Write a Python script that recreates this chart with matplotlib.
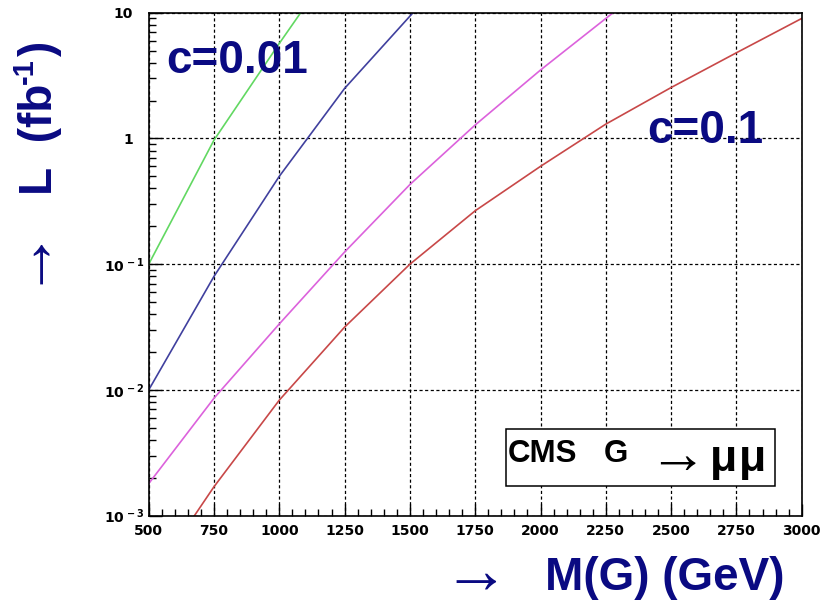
import matplotlib
matplotlib.use('Agg')
from matplotlib import pyplot as plt
from matplotlib import ticker
from matplotlib.patches import Rectangle

# luminosity needed (fb^-1) vs graviton mass (GeV)
mass_green = [500, 750, 1000, 1082]
lumi_green = [0.1, 0.97, 5.7, 10.0]

mass_blue = [500, 750, 1000, 1250, 1512]
lumi_blue = [0.01, 0.080, 0.50, 2.5, 10.0]

mass_magenta = [500, 750, 1000, 1250, 1500, 1750, 2000, 2278]
lumi_magenta = [0.0018, 0.0086, 0.0335, 0.125, 0.43, 1.28, 3.5, 10.0]

mass_red = [675, 750, 1000, 1250, 1500, 1750, 2000, 2250, 2500, 2750, 3000]
lumi_red = [0.001, 0.0017, 0.0083, 0.0316, 0.1, 0.266, 0.60, 1.3, 2.54, 4.8, 9.0]

x_ticks = [500, 750, 1000, 1250, 1500, 1750, 2000, 2250, 2500, 2750, 3000]
y_ticks = [1e-3, 1e-2, 1e-1, 1, 10]
y_ticklabels = [r'$10^{\,-3}$', r'$10^{\,-2}$', r'$10^{\,-1}$', '1', '10']

W, H = 823, 604
navy = '#0a0a82'

plt.rcParams['mathtext.fontset'] = 'dejavusans'
plt.rcParams['mathtext.default'] = 'bf'
# only used by the arrows (math_fontfamily='custom')
plt.rcParams['mathtext.rm'] = 'Liberation Sans'
plt.rcParams['mathtext.bf'] = 'Liberation Sans'

fig = plt.figure(figsize=(W / 100, H / 100), dpi=100)
ax = fig.add_axes([148.7 / W, 1 - 515.7 / H, 653 / W, 503 / H])

ax.plot(mass_green, lumi_green, color='#62d862', lw=1.2)
ax.plot(mass_blue, lumi_blue, color='#40409e', lw=1.2)
ax.plot(mass_magenta, lumi_magenta, color='#dc62dc', lw=1.2)
ax.plot(mass_red, lumi_red, color='#c84848', lw=1.2)

ax.set_yscale('log')
ax.set_xlim(500, 3000)
ax.set_ylim(1e-3, 10)

ax.set_xticks(x_ticks)
ax.set_xticklabels([str(t) for t in x_ticks])
ax.xaxis.set_minor_locator(ticker.MultipleLocator(50))
ax.set_yticks(y_ticks)
ax.set_yticklabels(y_ticklabels)
ax.yaxis.set_minor_locator(ticker.LogLocator(base=10, subs=range(2, 10)))
ax.yaxis.set_minor_formatter(ticker.NullFormatter())

ax.tick_params(which='both', direction='in', top=False, right=False, width=1)
ax.tick_params(which='major', length=9)
ax.tick_params(which='minor', length=5)
ax.tick_params(axis='x', pad=6)
for lab in ax.get_xticklabels() + ax.get_yticklabels():
    lab.set_fontfamily('DejaVu Sans')
    lab.set_fontweight('bold')
    lab.set_fontsize(10)
for t, lab in zip(ax.yaxis.get_major_ticks(), y_ticklabels):
    t.set_pad(2.5 if lab.startswith('$') else 11.5)

ax.grid(True, which='major', color='black', linestyle=(0, (2.5, 2)), linewidth=0.9)
for s in ax.spines.values():
    s.set_linewidth(1.2)


def fpos(x, y):
    return (x / W, 1 - y / H)


big = dict(family='Liberation Sans', weight='bold', color=navy, fontsize=33,
           transform=fig.transFigure)
arrow = dict(family='Liberation Sans', math_fontfamily='custom', color=navy, fontsize=48,
             transform=fig.transFigure, ha='center', va='center')
arr = r'$\rightarrow$'
fig.text(*fpos(166, 73), 'c=0.01', ha='left', va='baseline', **big)
fig.text(*fpos(647, 143), 'c=0.1', ha='left', va='baseline', **big)

# x axis title
fig.text(*fpos(545, 590), 'M(G) (GeV)', ha='left', va='baseline', **big)
fig.text(*fpos(464, 575), arr, **arrow)

# y axis title, rotated
rot = dict(big, rotation=90, rotation_mode='anchor', ha='left', va='baseline')
fig.text(*fpos(52, 195), 'L  (fb', **rot)
fig.text(*fpos(33, 84), '-1', **dict(rot, fontsize=21))
fig.text(*fpos(52, 56), ')', **rot)
fig.text(*fpos(36, 276), arr, rotation=90, **arrow)

# CMS label box
x0, y0 = fpos(506, 486)
x1, y1 = fpos(775, 429)
fig.patches.append(Rectangle((x0, y0), x1 - x0, y1 - y0, transform=fig.transFigure,
                             facecolor='white', edgecolor='black', lw=1.1, zorder=3))
lab = dict(family='Liberation Sans', weight='bold', color='black', fontsize=22.5,
           transform=fig.transFigure, ha='left', va='baseline', zorder=4)
fig.text(*fpos(508, 462), 'CMS', **lab)
fig.text(*fpos(604, 462), 'G', **lab)
fig.text(*fpos(667, 457), arr, **dict(arrow, color='black', fontsize=42, zorder=4))
fig.text(*fpos(710, 471), '\u03bc', **dict(lab, fontsize=32))
fig.text(*fpos(739, 471), '\u03bc', **dict(lab, fontsize=32))

fig.savefig('out.png', dpi=100)
